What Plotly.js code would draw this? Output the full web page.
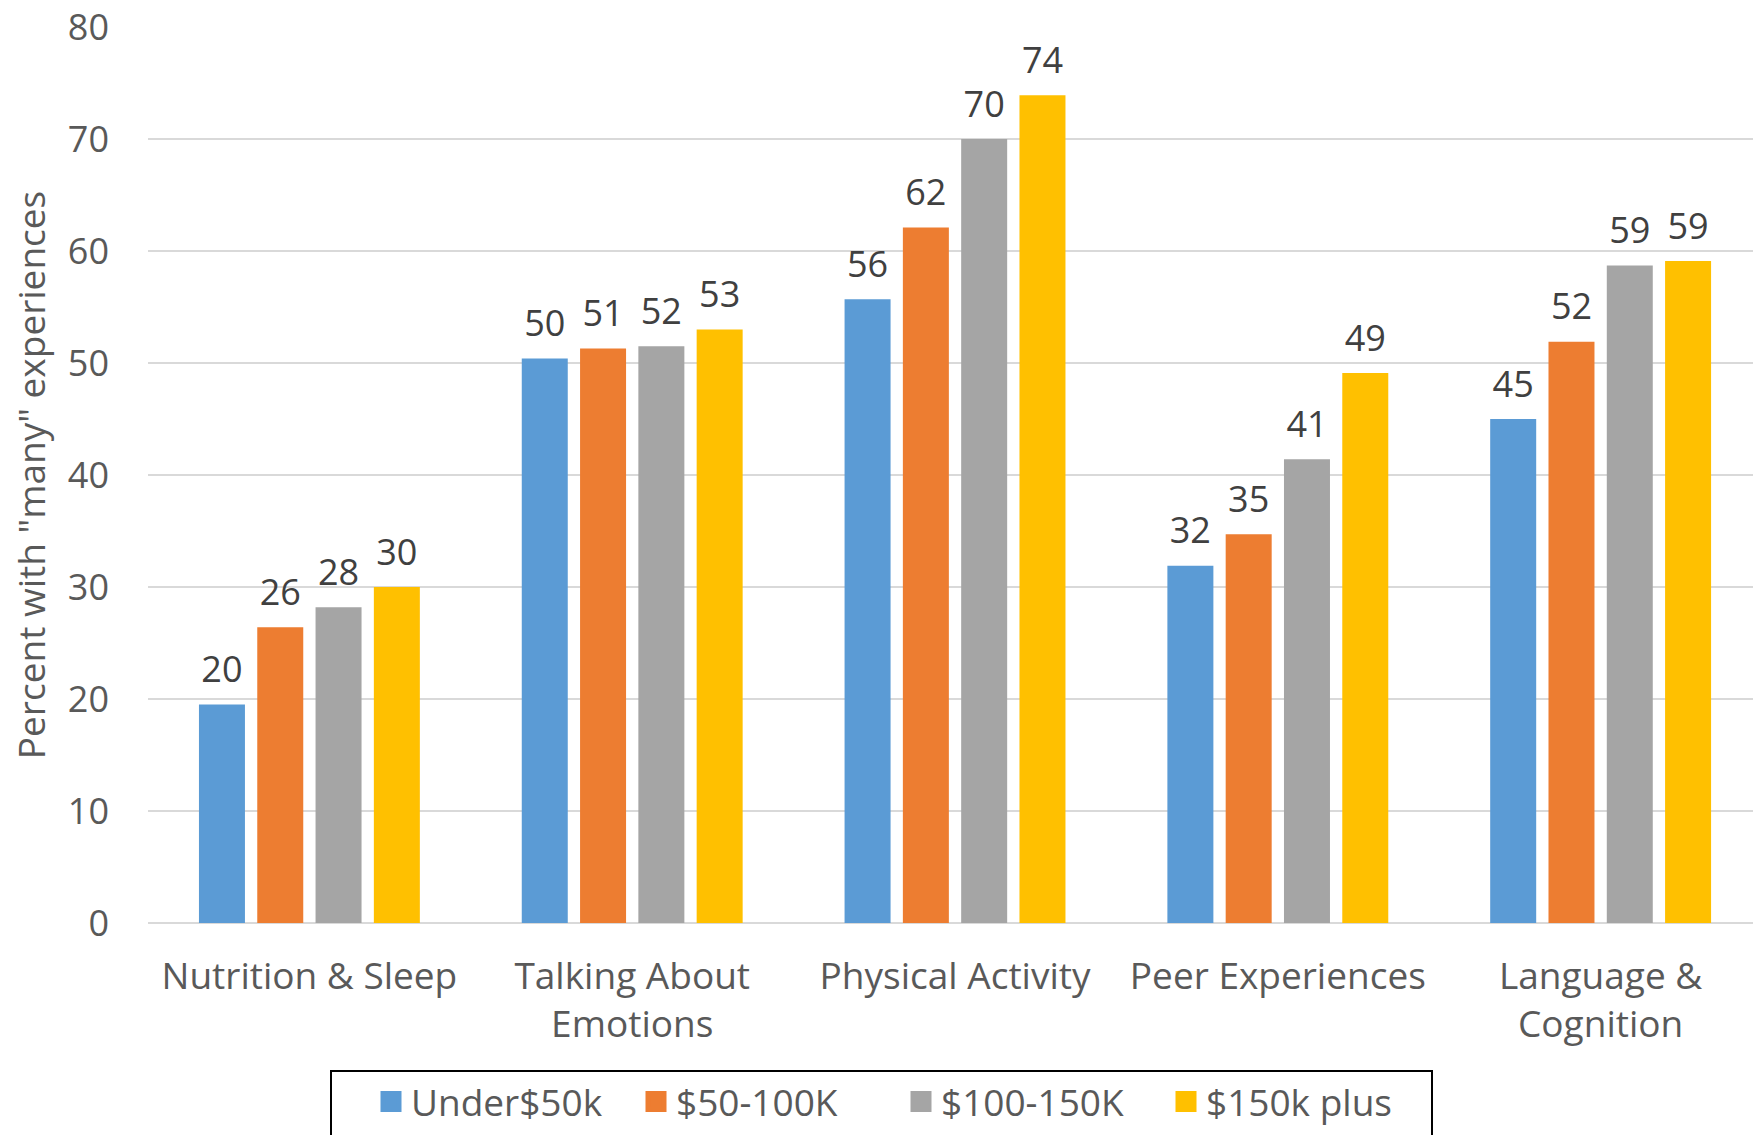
<!DOCTYPE html>
<html>
<head>
<meta charset="utf-8">
<script src="https://cdn.plot.ly/plotly-3.0.1.min.js"></script>
<style>html,body{margin:0;padding:0;background:#fff;}#chart{width:1753px;height:1135px;}</style>
</head>
<body>
<div id="chart"></div>
<script>
const categories = ["Nutrition & Sleep", "Talking About<br>Emotions", "Physical Activity", "Peer Experiences", "Language &<br>Cognition"];
const seriesNames = ["Under$50k", "$50-100K", "$100-150K", "$150k plus"];
const under50k = [19.5, 50.4, 55.7, 31.9, 45.0];
const k50to100 = [26.4, 51.3, 62.1, 34.7, 51.9];
const k100to150 = [28.2, 51.5, 70.0, 41.4, 58.7];
const k150plus = [30.0, 53.0, 73.9, 49.1, 59.1];
const colors = ["#5B9BD5", "#ED7D31", "#A5A5A5", "#FFC000"];
const yTicks = [0, 10, 20, 30, 40, 50, 60, 70, 80];

const FONT = "Open Sans, DejaVu Sans, sans-serif";
const allSeries = [under50k, k50to100, k100to150, k150plus];

const traces = [];
allSeries.forEach((vals, i) => {
  traces.push({
    type: "bar",
    x: categories,
    y: vals,
    name: seriesNames[i],
    marker: {color: colors[i]},
    showlegend: false,
    hoverinfo: "x+y+name"
  });
});
// value labels, grouped like the bars
allSeries.forEach((vals, i) => {
  traces.push({
    type: "scatter",
    mode: "markers+text",
    x: categories,
    y: vals,
    name: seriesNames[i] + " label",
    marker: {size: 20, color: "rgba(0,0,0,0)"},
    text: vals.map(v => Math.round(v).toString()),
    textposition: "top center",
    textfont: {family: FONT, size: 36, color: "#404040"},
    cliponaxis: false,
    showlegend: false,
    hoverinfo: "skip"
  });
});
// legend entries (on a hidden overlay subplot so they do not take group slots)
seriesNames.forEach((n, i) => {
  traces.push({
    type: "scatter",
    mode: "markers",
    x: [null], y: [null],
    xaxis: "x2", yaxis: "y2",
    name: n,
    marker: {symbol: "square", size: 23, color: colors[i], line: {color: colors[i], width: 5}},
    showlegend: true
  });
});

const L = 148, R = 1753, T = 27, B = 923;
const pw = R - L, ph = B - T;

const layout = {
  width: 1753, height: 1135,
  margin: {l: L, r: 1753 - R, t: T, b: 1135 - B, pad: 0, autoexpand: false},
  paper_bgcolor: "#fff", plot_bgcolor: "#fff",
  font: {family: FONT, color: "#595959", size: 37},
  barmode: "group",
  bargap: 0.2776,
  bargroupgap: 0.211,
  scattermode: "group",
  scattergap: 0.2776,
  xaxis: {
    type: "category",
    range: [-0.5, 4.472],
    tickfont: {family: FONT, size: 37, color: "#595959"},
    ticks: "", showgrid: false, zeroline: false, showline: false,
    ticklabelstandoff: 28,
    automargin: false,
    fixedrange: true
  },
  yaxis: {
    range: [0, 80],
    tickvals: yTicks,
    tickfont: {family: FONT, size: 36, color: "#595959"},
    showgrid: true, gridcolor: "#D9D9D9", gridwidth: 2,
    zeroline: true, zerolinecolor: "#D9D9D9", zerolinewidth: 2,
    showline: false, ticks: "",
    ticklabelstandoff: 38,
    automargin: false,
    title: {text: 'Percent with "many" experiences', font: {family: FONT, size: 37, color: "#595959"}, standoff: 10},
    fixedrange: true
  },
  xaxis2: {overlaying: "x", visible: false, automargin: false, fixedrange: true},
  yaxis2: {overlaying: "y", visible: false, automargin: false, fixedrange: true},
  showlegend: true,
  legend: {
    orientation: "h",
    x: (391 - 20 - L) / pw, xanchor: "left",
    y: -(1102 - B) / ph, yanchor: "middle",
    font: {family: FONT, size: 37, color: "#595959"},
    bgcolor: "rgba(0,0,0,0)",
    borderwidth: 0,
    entrywidth: 220, entrywidthmode: "pixels",
    itemclick: false, itemdoubleclick: false
  },
  shapes: [{
    type: "rect", xref: "paper", yref: "paper",
    x0: (331 - L) / pw, x1: (1432 - L) / pw,
    y0: -(1071 - B) / ph, y1: -(1150 - B) / ph,
    line: {color: "#000", width: 2}, fillcolor: "rgba(0,0,0,0)"
  }]
};

Plotly.newPlot("chart", traces, layout, {displayModeBar: false, staticPlot: true});
</script>
</body>
</html>
